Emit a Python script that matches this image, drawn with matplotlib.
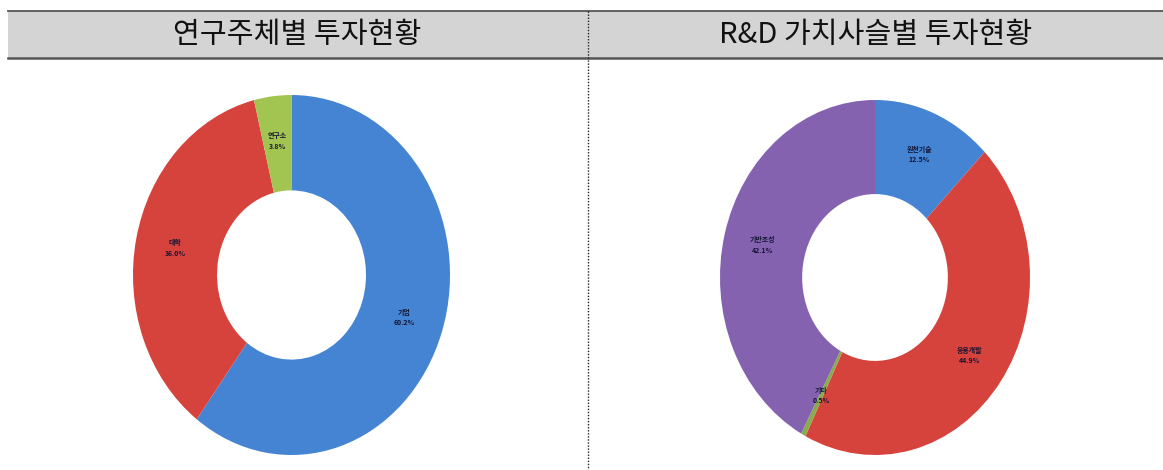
import matplotlib
matplotlib.use("Agg")
import matplotlib.pyplot as plt
import numpy as np
from matplotlib.lines import Line2D
from matplotlib.patches import Rectangle

plt.rcParams["font.family"] = ["Noto Sans CJK KR", "DejaVu Sans"]

# ─── Data ─────────────────────────────────────────────────────────────────────
TITLES = ["연구주체별 투자현황", "R&D 가치사슬별 투자현황"]

LEFT_LABELS = ["기업", "대학", "연구소"]
LEFT_VALUES = [60.2, 36.0, 3.8]
LEFT_COLORS = ["#4484d3", "#d6433d", "#a2c552"]

RIGHT_LABELS = ["원천기술", "응용개발", "기타", "기반조성"]
RIGHT_VALUES = [12.5, 44.9, 0.5, 42.1]
RIGHT_COLORS = ["#4484d3", "#d6433d", "#8aab4a", "#8462b0"]

W, H = 1163, 470


def px_axes(fig, x0, y0, x1, y1):
    """Axes from pixel box (top-left origin)."""
    return fig.add_axes([x0 / W, 1 - y1 / H, (x1 - x0) / W, (y1 - y0) / H])


def donut(ax, values, labels, colors):
    ax.pie(
        values, colors=colors, startangle=90, counterclock=False,
        radius=1.0, wedgeprops=dict(width=0.53, edgecolor="none"),
    )
    total = sum(values)
    ang = 90.0
    for v, lab in zip(values, labels):
        mid = ang - v / total * 360 / 2
        ang -= v / total * 360
        r = 0.75
        x, y = r * np.cos(np.radians(mid)), r * np.sin(np.radians(mid))
        ax.text(x, y, f"{lab}\n{v:.1f}%", ha="center", va="center",
                fontsize=5, fontweight="bold", color="#141432", linespacing=1.6)
    ax.set_aspect("auto")
    ax.set_xlim(-1, 1)
    ax.set_ylim(-1, 1)
    ax.axis("off")


fig = plt.figure(figsize=(W / 100, H / 100), dpi=100)

# header band
bg = fig.add_axes([0, 0, 1, 1])
bg.set_xlim(0, W)
bg.set_ylim(H, 0)
bg.axis("off")
bg.add_patch(Rectangle((8, 11), W - 8, 47, facecolor="#d4d4d4", edgecolor="none"))
bg.add_line(Line2D([8, W], [11, 11], color="#555555", lw=1.3))
bg.add_line(Line2D([8, W], [58, 58], color="#555555", lw=1.8))
bg.add_line(Line2D([588, 588], [11, H], color="#222222", lw=1.0, ls=(0, (1, 1.2))))
bg.text(297.5, 35, TITLES[0], ha="center", va="center", fontsize=21, fontweight="medium", color="#111111")
bg.text(876, 35, TITLES[1], ha="center", va="center", fontsize=21, fontweight="medium", color="#111111")

ax_l = px_axes(fig, 133, 95, 450, 455)
donut(ax_l, LEFT_VALUES, LEFT_LABELS, LEFT_COLORS)

ax_r = px_axes(fig, 720, 100, 1030, 455)
donut(ax_r, RIGHT_VALUES, RIGHT_LABELS, RIGHT_COLORS)

fig.savefig("out.png", dpi=100)
